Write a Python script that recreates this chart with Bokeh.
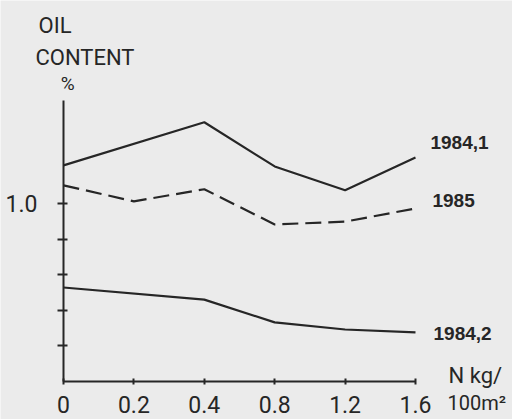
from bokeh.plotting import figure
from bokeh.models import Range1d, FixedTicker, Label, LinearAxis
from bokeh.embed import file_html
from bokeh.resources import INLINE

# N levels (kg / 100 m2), drawn at equal spacing as in the original
n_levels = ["0", "0.2", "0.4", "0.8", "1.2", "1.6"]

# Oil content (%) per series
x_1984_1 = ["0", "0.4", "0.8", "1.2", "1.6"]
oil_1984_1 = [1.107, 1.228, 1.104, 1.037, 1.129]

x_1985 = ["0", "0.2", "0.4", "0.8", "1.2", "1.6"]
oil_1985 = [1.051, 1.006, 1.040, 0.941, 0.949, 0.986]

x_1984_2 = ["0", "0.4", "0.8", "1.2", "1.6"]
oil_1984_2 = [0.764, 0.730, 0.666, 0.646, 0.638]

y_ticks = [0.6, 0.7, 0.8, 0.9, 1.0]
y_tick_labels = ["", "", "", "", "1.0"]

def idx(levels):
    return [n_levels.index(v) for v in levels]

BG = "#ebebeb"
INK = "#262626"
FONT = "Roboto"

p = figure(width=512, height=419, output_backend="svg", toolbar_location=None,
           x_range=Range1d(-0.895, 6.378), y_range=Range1d(0.3933, 1.570),
           x_axis_location=None, y_axis_location=None,
           min_border=0, background_fill_color=BG, border_fill_color=BG,
           outline_line_color=None)
p.grid.visible = False

# axes, fixed inside the frame
xa = LinearAxis(fixed_location=0.5)
xa.ticker = FixedTicker(ticks=list(range(len(n_levels))))
xa.major_label_overrides = {i: s for i, s in enumerate(n_levels)}
xa.bounds = (0, len(n_levels) - 1)
xa.major_tick_in = 3
xa.major_tick_out = 3
xa.minor_tick_line_color = None
xa.major_label_standoff = 11
xa.major_label_text_font = FONT
xa.major_label_text_font_size = "23px"
xa.major_label_text_color = INK
xa.axis_line_width = 2
xa.axis_line_color = INK
xa.major_tick_line_width = 2
xa.major_tick_line_color = INK
p.add_layout(xa, "below")

ya = LinearAxis(fixed_location=0)
ya.ticker = FixedTicker(ticks=y_ticks)
ya.major_label_overrides = {t: s for t, s in zip(y_ticks, y_tick_labels)}
ya.bounds = (0.5, 1.289)
ya.major_tick_in = 4
ya.major_tick_out = 6
ya.minor_tick_line_color = None
ya.major_label_standoff = 20
ya.major_label_text_font = FONT
ya.major_label_text_font_size = "23px"
ya.major_label_text_color = INK
ya.axis_line_width = 2
ya.axis_line_color = INK
ya.major_tick_line_width = 2
ya.major_tick_line_color = INK
p.add_layout(ya, "left")

# series
p.line(idx(x_1984_1), oil_1984_1, line_color=INK, line_width=2.2)
p.line(idx(x_1985), oil_1985, line_color=INK, line_width=2.2, line_dash="16 7")
p.line(idx(x_1984_2), oil_1984_2, line_color=INK, line_width=2.2)

def lab(x, y, text, size, font=FONT, style="normal"):
    p.add_layout(Label(x=x, y=y, text=text, text_font=font, text_font_size=size,
                       text_color=INK, text_baseline="middle", text_align="left",
                       text_font_style=style))

lab(-0.355, 1.50, "OIL", "22px")
lab(-0.398, 1.41, "CONTENT", "22px")
lab(-0.04, 1.337, "%", "19px")

lab(5.213, 1.171, "1984,1", "19px", "Liberation Sans", "bold")
lab(5.241, 1.008, "1985", "19px", "Liberation Sans", "bold")
lab(5.256, 0.635, "1984,2", "19px", "Liberation Sans", "bold")
lab(5.470, 0.517, "N kg/", "22px")
lab(5.455, 0.44, "100m²", "20px")

open("out.html", "w").write(file_html(p, INLINE))
